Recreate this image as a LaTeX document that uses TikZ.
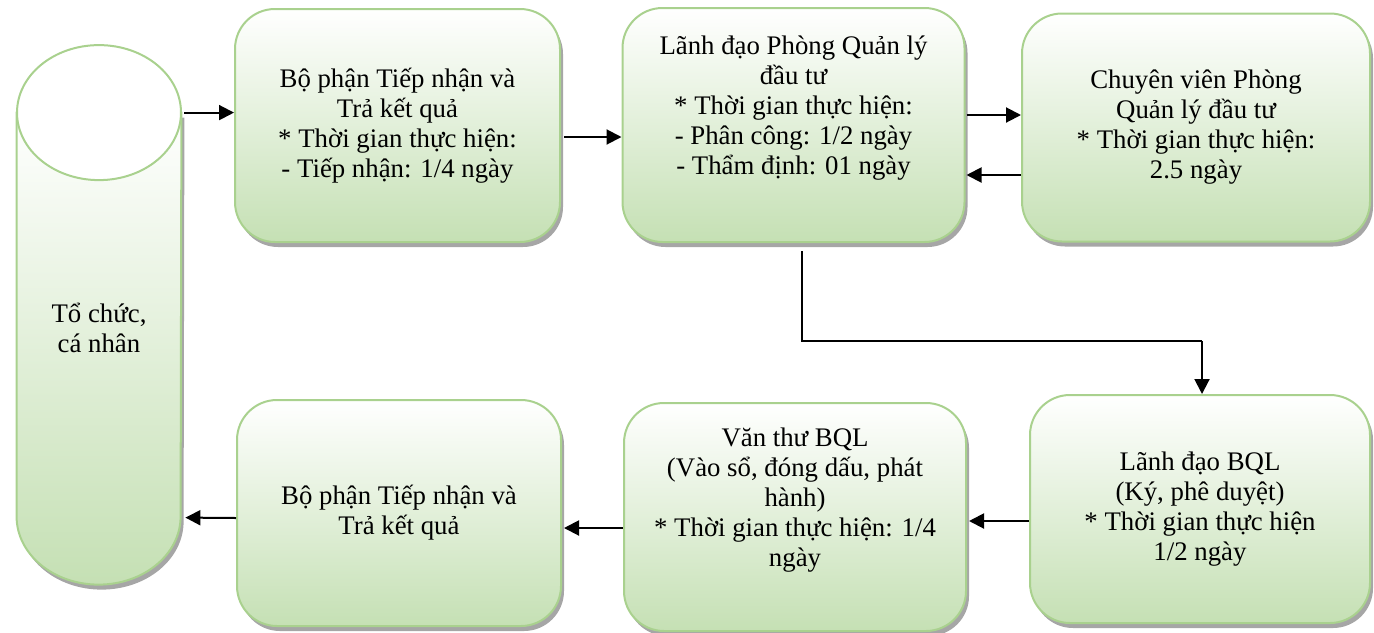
\documentclass[tikz,border=0pt]{standalone}
\usepackage{fontspec}
\setmainfont{Liberation Serif}
\usetikzlibrary{arrows.meta,backgrounds,calc,positioning,shadows}

\definecolor{boxgreen}{RGB}{197,224,180}
\definecolor{boxborder}{RGB}{169,209,142}

\begin{document}
\begin{tikzpicture}[
      x=0.5pt, y=-0.5pt,
      softshadow/.style={drop shadow={shadow xshift=1.5pt,shadow yshift=-2.5pt,fill=black,opacity=.35}},
      procbox/.style={rectangle,rounded corners=20pt,draw=boxborder,line width=1pt,
        top color=white,bottom color=boxgreen,align=center,inner sep=0pt,
        minimum width=171pt,minimum height=114pt,
        font=\fontsize{13.4}{15}\selectfont,softshadow},
      flow/.style={-{Triangle[length=7.5pt,width=7.5pt]},line width=1pt},
      link/.style={line width=0.6pt}
    ]
    \useasboundingbox (0,0) rectangle (1374,632);

    % Organisation (cylinder)
    \node[minimum width=82pt,minimum height=215pt,inner sep=0pt,align=center,
      font=\fontsize{13.4}{15}\selectfont] (org) at (99,328) {Tổ chức,\\cá nhân};
    \begin{scope}[on background layer]
      \draw[draw=boxborder,line width=1pt,top color=white,bottom color=boxgreen,softshadow]
      (org.north west) -- ++(0,-202pt)
      arc[start angle=180,end angle=360,x radius=41pt,y radius=34pt]
      -- (org.north east) -- cycle;
      \draw[draw=boxborder,line width=1pt,fill=white]
      (org.north) ellipse[x radius=41pt,y radius=33.75pt];
    \end{scope}

    % Top row
    \node[procbox,minimum width=162.5pt,minimum height=116.5pt] (b1) at (397.5,125.5)
    {Bộ phận Tiếp nhận và\\Trả kết quả\\* Thời gian thực hiện:\\- Tiếp nhận: 1/4 ngày};
    \node[procbox,minimum height=117pt] (b2) at (793.5,125)
    {Lãnh đạo Phòng Quản lý\\đầu tư\\* Thời gian thực hiện:\\- Phân công: 1/2 ngày\\- Thẩm định: 01 ngày\\\strut};
    \node[procbox,minimum width=174pt] (b3) at (1196,127.5)
    {Chuyên viên Phòng\\Quản lý đầu tư\\* Thời gian thực hiện:\\2.5 ngày};

    % Bottom row
    \node[procbox,minimum width=170pt] (b4) at (1200,509)
    {Lãnh đạo BQL\\(Ký, phê duyệt)\\* Thời gian thực hiện\\1/2 ngày};
    \node[procbox] (b5) at (795,517)
    {Văn thư BQL\\(Vào sổ, đóng dấu, phát\\hành)\\* Thời gian thực hiện: 1/4\\ngày\\\strut};
    \node[procbox,minimum width=162pt,minimum height=113pt] (b6) at (399,513)
    {Bộ phận Tiếp nhận và\\Trả kết quả};

    % Connectors
    \draw[flow] ($(org.north east)+(1.5pt,0)$) -- (b1.west |- org.north east);
    \draw[flow] ($(b1.east)+(1.5pt,-5.75pt)$) -- ($(b2.west)+(0,-6pt)$);
    \draw[flow] ($(b2.east)+(0.5pt,5pt)$) -- ($(b3.west)+(0,6.25pt)$);
    \draw[flow] ($(b3.west)+(0,-23.75pt)$) -- ($(b2.east)+(0.5pt,-25pt)$);

    \coordinate (turn) at (1202,341);
    \draw[link] ($(b2.south)+(4.25pt,-4pt)$) |- (turn);
    \draw[flow] (turn) -- (turn |- b4.north);

    \draw[flow] ($(b4.west)+(0,-6pt)$) -- ($(b5.east)+(1pt,-2pt)$);
    \draw[flow] ($(b5.west)+(0,-5.5pt)$) -- ($(b6.east)+(1pt,-7.5pt)$);
    \draw[flow] ($(b6.west)+(0,-2.5pt)$) -- ($(org.north east)+(2pt,-202.5pt)$);

  \end{tikzpicture}
\end{document}
